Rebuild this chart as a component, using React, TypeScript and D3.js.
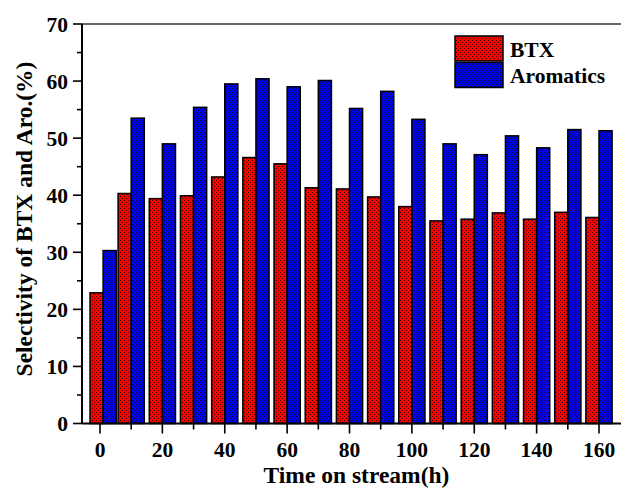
import React from "react";
import * as d3 from "d3";

const times = [1, 10, 20, 30, 40, 50, 60, 70, 80, 90, 100, 110, 120, 130, 140, 150, 160];
const btx = [22.9, 40.3, 39.4, 39.9, 43.2, 46.6, 45.5, 41.3, 41.1, 39.7, 38.0, 35.5, 35.8, 36.9, 35.8, 37.0, 36.1];
const aromatics = [30.3, 53.5, 49.0, 55.4, 59.5, 60.4, 59.0, 60.1, 55.2, 58.2, 53.3, 49.0, 47.1, 50.4, 48.3, 51.5, 51.3];
const seriesNames = ["BTX", "Aromatics"];
const xMajor = [0, 20, 40, 60, 80, 100, 120, 140, 160];
const xMinor = [10, 30, 50, 70, 90, 110, 130, 150];
const yMajor = [0, 10, 20, 30, 40, 50, 60, 70];
const yMinor = [5, 15, 25, 35, 45, 55, 65];

const W = 621, H = 488;
const left = 82, top = 24, bottom = 423.5, right = 621;
const x = d3.scaleLinear().domain([0, 160]).range([100, 599]);
const y = d3.scaleLinear().domain([0, 70]).range([bottom, top]);
const barW = 4.2;
const font = "'Liberation Serif', 'Times New Roman', serif";

export default function App() {
  const bw = x(barW) - x(0);
  return (
    <svg width={W} height={H} style={{ position: "absolute", left: 0, top: 0, background: "#fff" }}>
      <defs>
        <pattern id="pr" x={0} y={0} width={4} height={4} patternUnits="userSpaceOnUse" shapeRendering="crispEdges">
          <rect width={4} height={4} fill="#ff0000" />
          <rect x={0} y={0} width={1} height={1} fill="#300" />
          <rect x={2} y={2} width={1} height={1} fill="#300" />
        </pattern>
        <pattern id="pb" x={0} y={0} width={4} height={4} patternUnits="userSpaceOnUse" shapeRendering="crispEdges">
          <rect width={4} height={4} fill="#0000ff" />
          <rect x={0} y={0} width={1} height={1} fill="#003" />
          <rect x={2} y={2} width={1} height={1} fill="#003" />
        </pattern>
      </defs>
      {times.map((t, i) => (
        <g key={i}>
          <rect x={x(t - barW)} y={y(btx[i])} width={bw} height={bottom - y(btx[i])}
            fill="url(#pr)" stroke="#000" strokeWidth={1.5} />
          <rect x={x(t)} y={y(aromatics[i])} width={bw} height={bottom - y(aromatics[i])}
            fill="url(#pb)" stroke="#000" strokeWidth={1.5} />
        </g>
      ))}
      {/* axes */}
      <line x1={left} x2={right} y1={top} y2={top} stroke="#333" strokeWidth={1.6} />
      <line x1={left} x2={left} y1={top} y2={bottom} stroke="#000" strokeWidth={2} />
      <line x1={left} x2={right} y1={bottom} y2={bottom} stroke="#000" strokeWidth={2} />
      {yMajor.map((v) => (
        <g key={"ym" + v}>
          <line x1={left - 9} x2={left} y1={y(v)} y2={y(v)} stroke="#000" strokeWidth={1.6} />
          <text x={68} y={y(v)} dy="0.35em" textAnchor="end" fontFamily={font} fontWeight="bold" fontSize={21.5}>{v}</text>
        </g>
      ))}
      {yMinor.map((v) => (
        <line key={"yn" + v} x1={left - 5} x2={left} y1={y(v)} y2={y(v)} stroke="#000" strokeWidth={1.6} />
      ))}
      {xMajor.map((v) => (
        <g key={"xm" + v}>
          <line x1={x(v)} x2={x(v)} y1={bottom} y2={bottom + 10} stroke="#000" strokeWidth={1.6} />
          <text x={x(v)} y={456.5} textAnchor="middle" fontFamily={font} fontWeight="bold" fontSize={21.5}>{v}</text>
        </g>
      ))}
      {xMinor.map((v) => (
        <line key={"xn" + v} x1={x(v)} x2={x(v)} y1={bottom} y2={bottom + 6} stroke="#000" strokeWidth={1.6} />
      ))}
      <text x={356.5} y={483} textAnchor="middle" fontFamily={font} fontWeight="bold" fontSize={23.5}>Time on stream(h)</text>
      <text transform={`translate(32,219) rotate(-90)`} textAnchor="middle" fontFamily={font} fontWeight="bold" fontSize={23.5}>Selectivity of BTX and Aro.(%)</text>
      {/* legend */}
      <rect x={455} y={36} width={48} height={25} fill="url(#pr)" stroke="#000" strokeWidth={1.5} />
      <rect x={455} y={62.5} width={48} height={25} fill="url(#pb)" stroke="#000" strokeWidth={1.5} />
      <text x={510} y={56.5} fontFamily={font} fontWeight="bold" fontSize={21.5}>{seriesNames[0]}</text>
      <text x={510} y={83} fontFamily={font} fontWeight="bold" fontSize={21.5}>{seriesNames[1]}</text>
    </svg>
  );
}
